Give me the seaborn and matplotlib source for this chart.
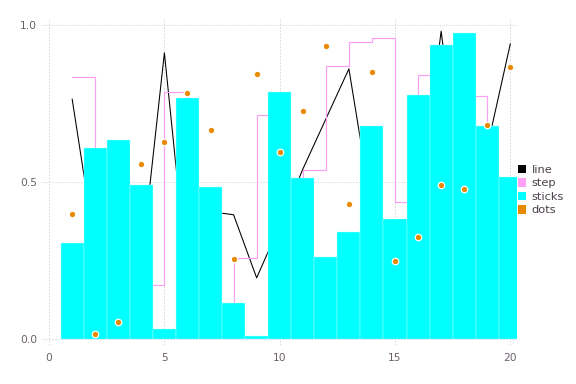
import matplotlib
matplotlib.use('Agg')
import matplotlib.pyplot as plt
from matplotlib.patches import Patch
import seaborn as sns

# data
xs = list(range(1, 21))
line_y = [0.764, 0.29, 0.35, 0.24, 0.911, 0.19, 0.405, 0.395, 0.194, 0.36,
          0.54, 0.70, 0.86, 0.41, 0.30, 0.40, 0.98, 0.40, 0.61, 0.94]
step_y = [0.834, 0.45, 0.30, 0.17, 0.785, 0.35, 0.08, 0.257, 0.713, 0.45,
          0.538, 0.869, 0.944, 0.957, 0.437, 0.84, 0.60, 0.774, 0.50, 0.30]
sticks = [0.306, 0.608, 0.634, 0.49, 0.032, 0.768, 0.484, 0.115, 0.01, 0.787,
          0.513, 0.261, 0.341, 0.678, 0.382, 0.777, 0.936, 0.975, 0.678, 0.516]
dots = [0.398, 0.016, 0.054, 0.557, 0.627, 0.783, 0.666, 0.255, 0.844, 0.596,
        0.726, 0.933, 0.43, 0.85, 0.248, 0.325, 0.49, 0.478, 0.682, 0.866]
x_ticks = [0, 5, 10, 15, 20]
y_ticks = [0.0, 0.5, 1.0]
y_tick_labels = ['0.0', '0.5', '1.0']
names = ['line', 'step', 'sticks', 'dots']
colors = ['black', '#ff9ff6', '#00ffff', '#e88a00']

sns.set_style('white')
plt.rcParams['font.family'] = ['DejaVu Sans']

fig = plt.figure(figsize=(6, 4), dpi=96)
ax = fig.add_axes([0.0724, 0.1016, 0.8252, 0.8515])

# line and step sit under the bars
sns.lineplot(x=xs, y=line_y, ax=ax, color=colors[0], linewidth=0.8, zorder=1.5)
sns.lineplot(x=xs, y=step_y, ax=ax, color=colors[1], linewidth=0.9,
             drawstyle='steps-post', zorder=1.5)
sns.barplot(x=xs, y=sticks, ax=ax, native_scale=True, width=1, errorbar=None,
            color=colors[2], saturation=1, edgecolor='#b8ffff',
            linewidth=0.3, zorder=2)
sns.scatterplot(x=xs, y=dots, ax=ax, color=colors[3], s=24,
                edgecolor='white', linewidth=0.9, zorder=3)

ax.set_xlim(-0.32, 20.29)
ax.set_ylim(-0.02, 1.022)
ax.set_xticks(x_ticks)
ax.set_xticklabels([str(t) for t in x_ticks])
ax.set_yticks(y_ticks)
ax.set_yticklabels(y_tick_labels)
ax.set_xlabel('')
ax.set_ylabel('')
ax.tick_params(axis='both', length=0, labelsize=8, labelcolor='#6c606b')
ax.tick_params(axis='x', pad=6)
ax.tick_params(axis='y', pad=3.5)
for s in ax.spines.values():
    s.set_visible(False)
ax.set_axisbelow(True)
ax.grid(True, color='#d0d0e0', linestyle=(0, (2, 2)), linewidth=0.6)

handles = [Patch(facecolor=c, edgecolor='none') for c in colors]
leg = fig.legend(handles, names, loc='center left', bbox_to_anchor=(0.899, 0.505),
                 frameon=False, fontsize=8.5, handlelength=0.75, handleheight=0.75,
                 handletextpad=0.45, labelspacing=0.3, borderpad=0, borderaxespad=0)
for t in leg.get_texts():
    t.set_color('#4c404b')

fig.savefig('out.png', dpi=96)
